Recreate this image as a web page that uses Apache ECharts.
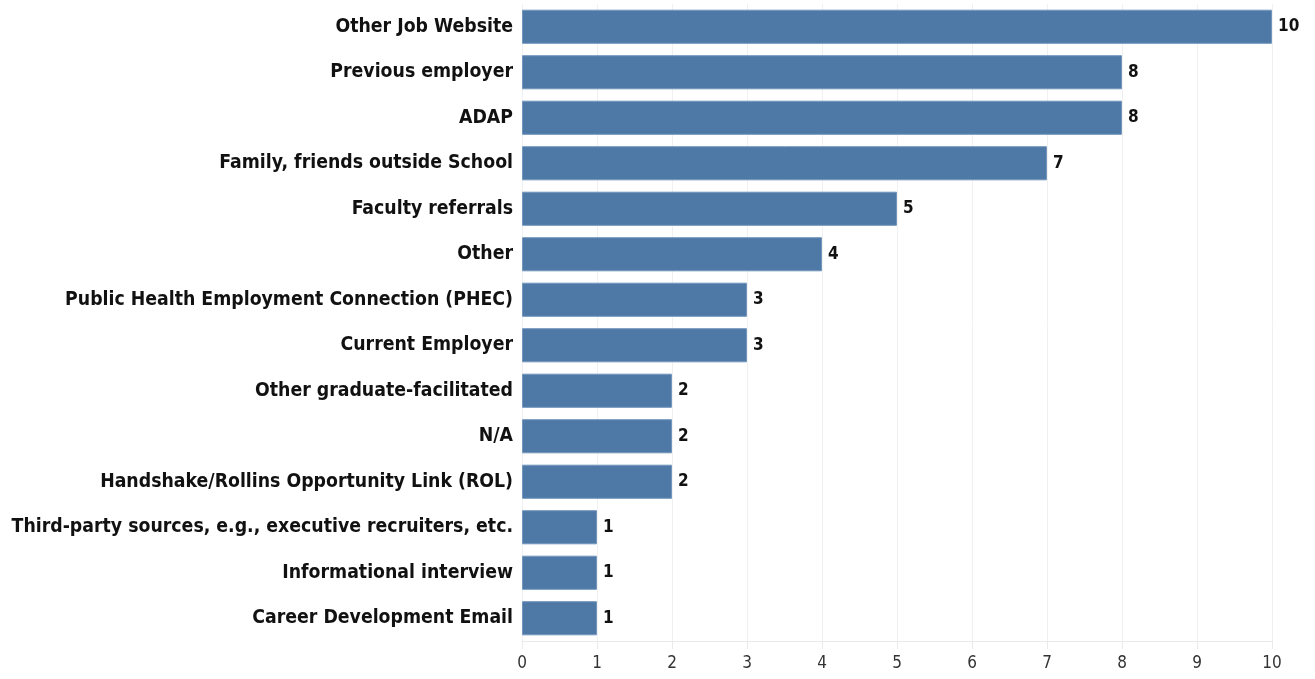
<!DOCTYPE html>
<html><head><meta charset="utf-8">
<script src="https://cdn.jsdelivr.net/npm/echarts@6/dist/echarts.min.js"></script>
<style>html,body{margin:0;padding:0;background:#fff}#c{width:1315px;height:679px}</style>
</head><body><div id="c"></div>
<script>
const categories = [
  "Other Job Website",
  "Previous employer",
  "ADAP",
  "Family, friends outside School",
  "Faculty referrals",
  "Other",
  "Public Health Employment Connection (PHEC)",
  "Current Employer",
  "Other graduate-facilitated",
  "N/A",
  "Handshake/Rollins Opportunity Link (ROL)",
  "Third-party sources, e.g., executive recruiters, etc.",
  "Informational interview",
  "Career Development Email"
];
const values = [10, 8, 8, 7, 5, 4, 3, 3, 2, 2, 2, 1, 1, 1];
const xTicks = [0, 1, 2, 3, 4, 5, 6, 7, 8, 9, 10];
const FONT = '"DejaVu Sans Condensed", "DejaVu Sans", sans-serif';

const chart = echarts.init(document.getElementById('c'), null, {renderer: 'canvas'});
chart.setOption({
  animation: false,
  grid: {left: 522, right: 43, top: 4, bottom: 38, containLabel: false},
  xAxis: {
    type: 'value', min: xTicks[0], max: xTicks[xTicks.length - 1], interval: 1,
    axisLine: {show: true, lineStyle: {color: '#eaeaea'}},
    axisTick: {show: true, length: 8, lineStyle: {color: '#eaeaea'}},
    splitLine: {show: true, lineStyle: {color: '#f0f0f0'}},
    axisLabel: {margin: 14, fontFamily: FONT, fontSize: 17, color: '#333'}
  },
  yAxis: {
    type: 'category', data: categories, inverse: true,
    axisLine: {show: false}, axisTick: {show: false},
    axisLabel: {margin: 9, fontFamily: FONT, fontWeight: 'bold', fontSize: 19.3, color: '#111'}
  },
  series: [{
    type: 'bar', data: values, barCategoryGap: '25%',
    itemStyle: {color: '#4e79a7', borderColor: '#7396bd', borderWidth: 1},
    label: {show: true, position: 'right', distance: 6, fontFamily: FONT, fontWeight: 'bold', fontSize: 17, color: '#111'}
  }]
});
</script></body></html>
